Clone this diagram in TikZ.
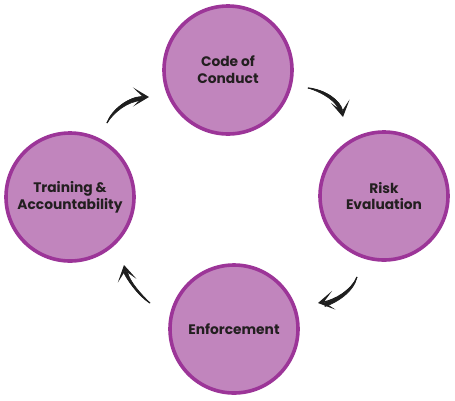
\documentclass[tikz,border=0pt]{standalone}
\usepackage{fontspec}
\setmainfont{Poppins}[BoldFont={Poppins Bold}]
\usetikzlibrary{arrows.meta}
\definecolor{circfill}{HTML}{C185BD}
\definecolor{circline}{HTML}{9C3598}
\definecolor{txt}{HTML}{231F20}
\definecolor{arr}{HTML}{1E1E1E}
\tikzset{
  stage/.style={circle, draw=circline, line width=3.6pt, fill=circfill,
    minimum size=128pt, inner sep=0pt, text=txt, align=center,
    font=\fontsize{13.8}{16.8}\selectfont\bfseries},
  shaft/.style={fill=arr, draw=arr, line width=0.6pt, line join=round},
  head/.style={draw=arr, line width=1.2pt, -{Stealth[length=16pt, width=19pt, inset=10pt]}}
}
\begin{document}
\begin{tikzpicture}[x=1pt, y=-1pt]
\useasboundingbox (0,0) rectangle (455,400);
\node[stage] (code) at (228,70) {Code of\\Conduct};
\node[stage] (risk) at (384,196) {Risk\\Evaluation};
\node[stage] (enf) at (234,329) {Enforcement};
\node[stage] (train) at (70,197) {Training \&\\Accountability};
% arrow ends
\coordinate (t1) at (107,123); \coordinate (h1) at (149,97);
\coordinate (t2) at (308,88);  \coordinate (h2) at (343,117);
\coordinate (t3) at (357,277); \coordinate (h3) at (318,303);
\coordinate (t4) at (150,303); \coordinate (h4) at (124,265);
% arrow 1: training -> code
\fill[shaft] (t1) .. controls (112,110) and (128,97) .. (142,96.5) -- (142,100.5) .. controls (128,101) and (114,112) .. (t1) -- cycle;
\draw[head] (t1) .. controls (112,110) and (128,97) .. (h1);
% arrow 2: code -> risk
\fill[shaft] (t2) .. controls (325,90) and (340,100) .. (342.5,110) -- (338.5,110) .. controls (337,102) and (324,93) .. (t2) -- cycle;
\draw[head] (t2) .. controls (325,90) and (340,100) .. (h2);
% arrow 3: risk -> enforcement
\fill[shaft] (t3) .. controls (352,290) and (335,300) .. (325,302.5) -- (325,306.5) .. controls (336,303) and (354,292) .. (t3) -- cycle;
\draw[head] (t3) .. controls (352,290) and (335,300) .. (h3);
% arrow 4: enforcement -> training
\fill[shaft] (t4) .. controls (138,295) and (127,280) .. (123.5,272) -- (127.5,272) .. controls (130,282) and (140,293) .. (t4) -- cycle;
\draw[head] (t4) .. controls (138,295) and (127,280) .. (h4);
\end{tikzpicture}
\end{document}
